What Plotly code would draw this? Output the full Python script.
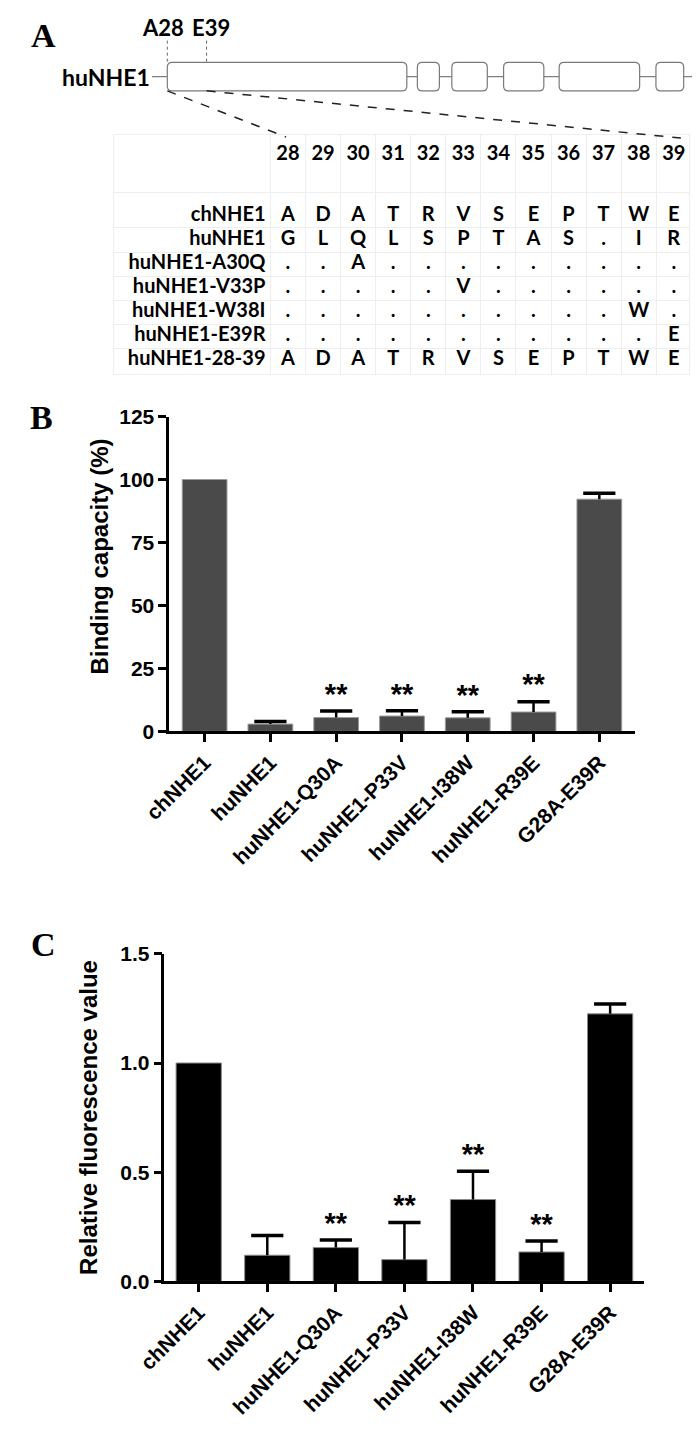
import plotly.graph_objects as go

# ---------------- data ----------------
categories = ["chNHE1", "huNHE1", "huNHE1-Q30A", "huNHE1-P33V",
              "huNHE1-I38W", "huNHE1-R39E", "G28A-E39R"]
binding_mean = [100.0, 2.9, 5.5, 6.1, 5.4, 7.7, 92.2]
binding_sem = [None, 1.0, 2.6, 2.1, 2.4, 4.1, 2.3]
binding_sig = ["", "", "**", "**", "**", "**", ""]
binding_ticks = [0, 25, 50, 75, 100, 125]

fluor_mean = [1.0, 0.12, 0.155, 0.10, 0.375, 0.135, 1.225]
fluor_sem = [None, 0.09, 0.035, 0.17, 0.13, 0.05, 0.045]
fluor_sig = ["", "", "**", "**", "**", "**", ""]
fluor_ticks = [0.0, 0.5, 1.0, 1.5]

residue_positions = list(range(28, 40))
row_names = ["chNHE1", "huNHE1", "huNHE1-A30Q", "huNHE1-V33P",
             "huNHE1-W38I", "huNHE1-E39R", "huNHE1-28-39"]
seq_chNHE1 = list("ADATRVSEPTWE")
seq_huNHE1 = list("GLQLSPTAS.IR")
seq_A30Q = list("..A.........")
seq_V33P = list(".....V......")
seq_W38I = list("..........W.")
seq_E39R = list("...........E")
seq_28_39 = list("ADATRVSEPTWE")
sequences = [seq_chNHE1, seq_huNHE1, seq_A30Q, seq_V33P, seq_W38I, seq_E39R, seq_28_39]

# gene diagram (drawing units = pixels of the diagram strip)
gene_name = "huNHE1"
exon_starts = [144, 405, 441, 495, 553, 654]
exon_ends = [394, 428, 478, 537, 637, 683]
site_labels = ["A28", "E39"]
site_pos = [144, 185]
site_label_pos = [140, 190]

# ---------------- layout helpers ----------------
PAGE_W, PAGE_H = 700, 1443
OFF = 8                      # browser body margin around the plot div
W, H = PAGE_W - OFF, PAGE_H - OFF
def fx(px):
    return (px - OFF) / W
def fy(py):
    return 1 - (py - OFF) / H

BOLD = "bold"
SANS = "Liberation Sans, Arial"
AXIS_FONT = dict(family=SANS, size=21, color="black", weight=BOLD)
TBL_FONT = dict(family="Lato, Open Sans", size=20, color="black", weight=BOLD)

fig = go.Figure()

fig.add_trace(go.Bar(x=categories, y=binding_mean, width=0.68,
                     marker=dict(color="#4a4a4a", line=dict(color="#9a9a9a", width=1)),
                     xaxis="x", yaxis="y", showlegend=False))
fig.add_trace(go.Bar(x=categories, y=fluor_mean, width=0.66,
                     marker=dict(color="#000000", line=dict(color="#8a8a8a", width=1)),
                     xaxis="x2", yaxis="y2", showlegend=False))

def add_errors(mean, sem, sig, xa, ya):
    sx, sy, cx, cy, tx, ty, tt = [], [], [], [], [], [], []
    for c, m, s, g in zip(categories, mean, sem, sig):
        top = m if s is None else m + s
        if s is not None:
            sx += [c, c, None]
            sy += [m, m + s, None]
            cx.append(c)
            cy.append(m + s)
        if g:
            tx.append(c); ty.append(top); tt.append(g)
    fig.add_trace(go.Scatter(x=sx, y=sy, mode="lines", line=dict(color="black", width=2.5),
                             xaxis=xa, yaxis=ya, showlegend=False, hoverinfo="skip"))
    fig.add_trace(go.Scatter(x=cx, y=cy, mode="markers",
                             marker=dict(symbol="line-ew", size=23, color="black",
                                         line=dict(color="black", width=3.5)),
                             xaxis=xa, yaxis=ya, showlegend=False, hoverinfo="skip"))
    fig.add_trace(go.Scatter(x=tx, y=ty, mode="text", text=tt, textposition="top center",
                             textfont=dict(family=SANS, size=29, color="black", weight=BOLD),
                             xaxis=xa, yaxis=ya, showlegend=False, hoverinfo="skip"))

add_errors(binding_mean, binding_sem, binding_sig, "x", "y")
add_errors(fluor_mean, fluor_sem, fluor_sig, "x2", "y2")

# ---------- alignment table (x4/y4) ----------
HEADER_ROW = -2.53
tx, ty, tt = [], [], []
for r, seq in enumerate(sequences):
    for p, ch in zip(residue_positions, seq):
        tx.append(p); ty.append(r); tt.append(ch)
fig.add_trace(go.Scatter(x=tx, y=ty, mode="text", text=tt, textposition="middle center",
                         textfont=TBL_FONT, xaxis="x4", yaxis="y4", showlegend=False,
                         hoverinfo="skip"))
fig.add_trace(go.Scatter(x=residue_positions, y=[HEADER_ROW] * len(residue_positions),
                         mode="text", text=[str(p) for p in residue_positions],
                         textposition="middle center", textfont=TBL_FONT,
                         xaxis="x4", yaxis="y4", showlegend=False, hoverinfo="skip"))
fig.add_trace(go.Scatter(x=[27.36] * len(row_names), y=list(range(len(row_names))),
                         mode="text", text=row_names, textposition="middle left",
                         textfont=TBL_FONT, xaxis="x4", yaxis="y4", showlegend=False,
                         hoverinfo="skip"))

# ---------- gene diagram (x3/y3, page-pixel units) ----------
shapes = []
GY0, GY1, GMID = 51, 80, 65.5
shapes.append(dict(type="line", xref="x3", yref="y3", x0=128, x1=700, y0=GMID, y1=GMID,
                   line=dict(color="#808080", width=1.2)))
def rounded(x0, x1, y0, y1, r=5):
    return (f"M{x0+r},{y0} L{x1-r},{y0} Q{x1},{y0} {x1},{y0+r} L{x1},{y1-r} "
            f"Q{x1},{y1} {x1-r},{y1} L{x0+r},{y1} Q{x0},{y1} {x0},{y1-r} "
            f"L{x0},{y0+r} Q{x0},{y0} {x0+r},{y0} Z")
for s, e in zip(exon_starts, exon_ends):
    shapes.append(dict(type="path", xref="x3", yref="y3", path=rounded(s, e, GY0, GY1),
                       fillcolor="white", line=dict(color="#7a7a7a", width=1.2)))
for sp in site_pos:
    shapes.append(dict(type="line", xref="x3", yref="y3", x0=sp, x1=sp, y0=29, y1=GY0,
                       line=dict(color="#666666", width=1, dash="dot")))
shapes.append(dict(type="line", xref="x3", yref="y3", x0=site_pos[0], y0=GY1, x1=268, y1=127,
                   line=dict(color="#222222", width=1.5, dash="dash")))
shapes.append(dict(type="line", xref="x3", yref="y3", x0=site_pos[1], y0=GY1, x1=680, y1=128,
                   line=dict(color="#222222", width=1.5, dash="dash")))

annotations = []
annotations.append(dict(xref="x3", yref="y3", x=127, y=GMID, text=gene_name, showarrow=False,
                        xanchor="right", yanchor="middle", borderpad=0,
                        font=dict(family="Lato, Open Sans", size=23, color="black", weight=BOLD)))
for lab, sp in zip(site_labels, site_label_pos):
    annotations.append(dict(xref="x3", yref="y3", x=sp, y=16, text=lab, showarrow=False,
                            xanchor="center", yanchor="middle",
                            font=dict(family="Lato, Open Sans", size=22, color="black", weight=BOLD)))
PANEL_FONT = dict(family="Liberation Serif, Times New Roman", size=34, color="black", weight=BOLD)
for lab, px, py in [("A", 15, 24), ("B", 13, 412), ("C", 15, 948)]:
    annotations.append(dict(xref="paper", yref="paper", x=fx(px), y=fy(py), text=lab,
                            showarrow=False, xanchor="center", yanchor="middle", font=PANEL_FONT))
TITLE_FONT = dict(family=SANS, size=24, color="black", weight=BOLD)
annotations.append(dict(xref="paper", yref="paper", x=fx(73), y=fy(553),
                        text="Binding capacity (%)", textangle=-90, showarrow=False,
                        xanchor="center", yanchor="middle", font=TITLE_FONT))
annotations.append(dict(xref="paper", yref="paper", x=fx(61), y=fy(1123),
                        text="Relative fluorescence value", textangle=-90, showarrow=False,
                        xanchor="center", yanchor="middle", font=TITLE_FONT))

common_x = dict(type="category", showline=True, linewidth=2.5, linecolor="black",
                ticks="outside", ticklen=8, tickwidth=2.5, tickcolor="black",
                tickangle=-45, tickfont=dict(family=SANS, size=21, color="black", weight=BOLD),
                showgrid=False, zeroline=False)
common_y = dict(showline=True, linewidth=2.5, linecolor="black", ticks="outside",
                ticklen=8, tickwidth=2.5, tickcolor="black", tickfont=AXIS_FONT,
                showgrid=False, zeroline=False)

fig.update_layout(
    width=W, height=H, margin=dict(l=0, r=0, t=0, b=0),
    paper_bgcolor="white", plot_bgcolor="white", showlegend=False,
    shapes=shapes, annotations=annotations,
    xaxis=dict(domain=[fx(146), fx(632)], range=[-0.538, 6.54], anchor="y", **common_x),
    yaxis=dict(domain=[fy(731), fy(411)], range=[0, 125], tickvals=binding_ticks, anchor="x",
               **common_y),
    xaxis2=dict(domain=[fx(141), fx(642)], range=[-0.5, 6.5], anchor="y2", **common_x),
    yaxis2=dict(domain=[fy(1290), fy(957)], range=[0, 1.5], tickvals=fluor_ticks,
                tickformat=".1f", anchor="x2", **common_y),
    xaxis3=dict(domain=[0, 1], range=[OFF, PAGE_W], visible=False, anchor="y3",
                fixedrange=True),
    yaxis3=dict(domain=[fy(130), 1], range=[130, OFF], visible=False, anchor="x3",
                fixedrange=True),
    xaxis4=dict(domain=[fx(88), fx(688)], range=[23.03, 39.42], anchor="y4",
                tickvals=[27.5 + i for i in range(12)], showticklabels=False, ticks="",
                showgrid=True, gridcolor="#eeeeee", gridwidth=1, zeroline=False,
                showline=True, mirror=True, linecolor="#eeeeee", linewidth=1),
    yaxis4=dict(domain=[fy(368), fy(125)], range=[6.57, -3.35], anchor="x4",
                tickvals=[-0.98] + [r + 0.5 for r in range(6)], showticklabels=False, ticks="",
                showgrid=True, gridcolor="#eeeeee", gridwidth=1, zeroline=False,
                showline=True, mirror=True, linecolor="#eeeeee", linewidth=1),
)

fig.write_html("out.html")
